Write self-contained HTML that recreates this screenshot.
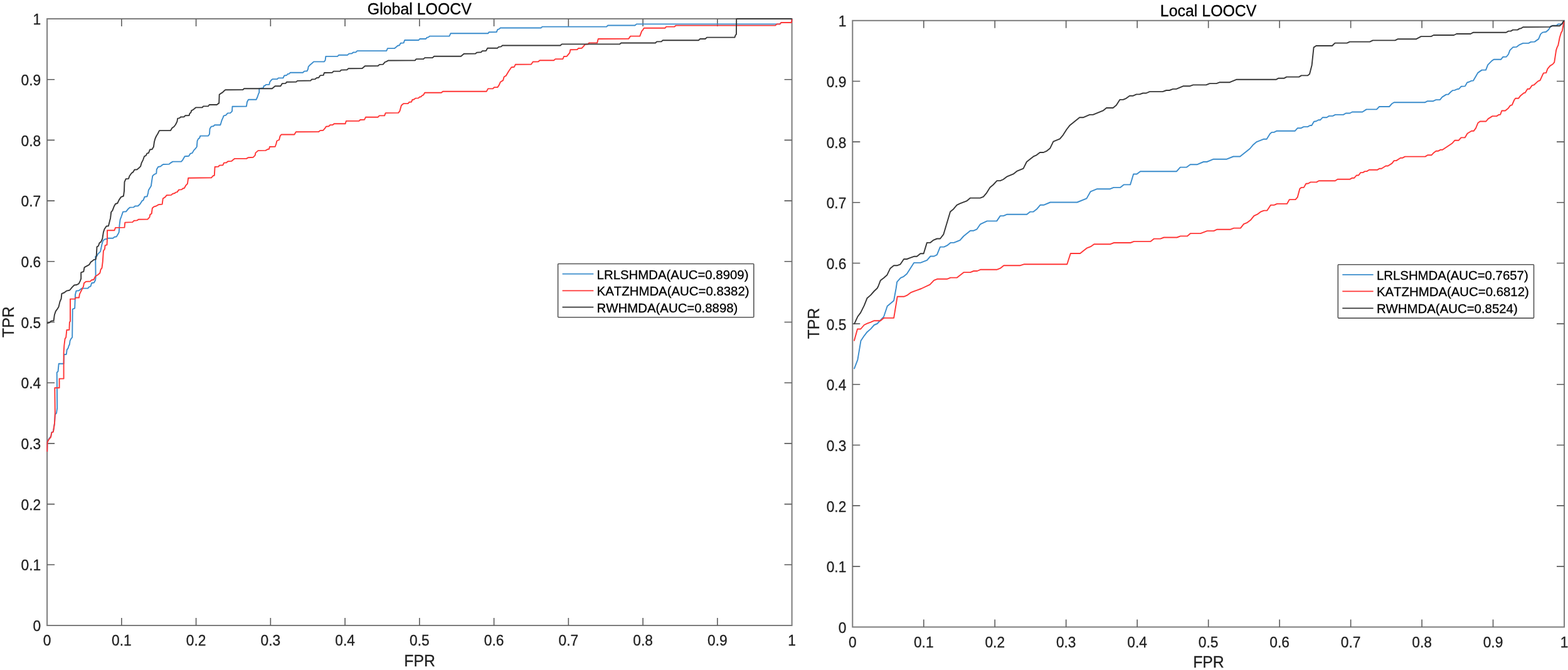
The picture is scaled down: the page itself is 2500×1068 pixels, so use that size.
<!DOCTYPE html>
<html lang="en">
<head>
<meta charset="utf-8">
<title>ROC curves: Global LOOCV and Local LOOCV</title>
<style>
html,body{margin:0;padding:0;background:#fff;}
body{width:2500px;height:1068px;overflow:hidden;}
svg{display:block;font-family:"Liberation Sans",Arial,Helvetica,sans-serif;font-kerning:none;}
text{stroke-width:0.3px;paint-order:stroke;}
</style>
</head>
<body>
<svg width="2500" height="1068" viewBox="0 0 2500 1068" role="img" aria-label="ROC curves for Global LOOCV and Local LOOCV">
<rect width="2500" height="1068" fill="#fff"/>
<g id="global-loocv">
<rect x="75.1" y="30" width="1187.50" height="967.00" fill="none" stroke="#7c7c7c" stroke-width="2"/>
<path d="M193.85 997 v-12.0 M193.85 30 v12.0 M75.1 900.30 h12.0 M1262.6 900.30 h-12.0 M312.60 997 v-12.0 M312.60 30 v12.0 M75.1 803.60 h12.0 M1262.6 803.60 h-12.0 M431.35 997 v-12.0 M431.35 30 v12.0 M75.1 706.90 h12.0 M1262.6 706.90 h-12.0 M550.10 997 v-12.0 M550.10 30 v12.0 M75.1 610.20 h12.0 M1262.6 610.20 h-12.0 M668.85 997 v-12.0 M668.85 30 v12.0 M75.1 513.50 h12.0 M1262.6 513.50 h-12.0 M787.60 997 v-12.0 M787.60 30 v12.0 M75.1 416.80 h12.0 M1262.6 416.80 h-12.0 M906.35 997 v-12.0 M906.35 30 v12.0 M75.1 320.10 h12.0 M1262.6 320.10 h-12.0 M1025.10 997 v-12.0 M1025.10 30 v12.0 M75.1 223.40 h12.0 M1262.6 223.40 h-12.0 M1143.85 997 v-12.0 M1143.85 30 v12.0 M75.1 126.70 h12.0 M1262.6 126.70 h-12.0" fill="none" stroke="#5c5c5c" stroke-width="1.6"/>
<path d="M75.2 719.9 L75.5 704.5 L77.7 699.8 L81.1 695.6 L82.4 689.2 L84.9 688.0 L87.0 674.7 L87.8 660.4 L90.0 658.7 L91.2 650.3 L90.7 593.8 L92.5 592.1 L93.7 579.8 L101.6 579.8 L102.1 565.2 L105.8 564.8 L106.7 557.6 L108.5 555.1 L109.7 551.3 L110.9 549.0 L111.6 543.3 L113.2 540.1 L115.2 537.7 L115.7 492.9 L119.2 491.3 L120.0 469.7 L121.6 463.6 L125.7 463.3 L130.5 459.6 L140.1 459.6 L141.7 457.7 L144.5 456.5 L146.1 451.3 L150.0 450.5 L152.1 446.5 L152.6 442.4 L152.2 408.8 L154.5 408.0 L156.1 404.8 L160.1 400.8 L162.5 389.6 L164.1 384.0 L166.5 381.6 L170.5 380.8 L172.1 379.7 L180.1 379.7 L182.5 377.8 L185.7 377.3 L188.1 373.3 L189.7 370.1 L190.5 358.9 L191.6 350.1 L193.7 344.5 L196.1 337.6 L200.9 337.3 L204.1 333.3 L207.3 330.6 L212.9 330.4 L215.3 328.5 L220.1 328.2 L223.3 325.3 L226.5 320.2 L228.5 319.2 L230.5 313.8 L234.5 313.3 L236.1 307.7 L236.9 302.9 L240.9 296.5 L242.5 285.3 L243.3 280.5 L245.7 278.1 L249.3 276.5 L249.8 270.0 L252.2 266.0 L256.2 265.2 L257.8 263.6 L260.2 262.0 L269.8 261.6 L272.2 259.6 L275.4 257.6 L289.0 257.6 L291.4 254.8 L294.6 249.2 L301.0 248.8 L303.4 244.9 L306.6 243.9 L309.0 239.6 L311.4 237.2 L313.8 234.0 L314.6 224.4 L316.5 220.9 L318.1 220.1 L319.3 216.6 L332.1 216.6 L334.0 213.7 L334.5 205.7 L336.1 202.5 L338.0 201.4 L340.1 201.2 L342.2 199.3 L351.3 199.3 L352.6 195.3 L353.7 191.6 L355.6 187.3 L356.6 184.6 L360.1 183.6 L363.0 180.4 L367.3 180.1 L370.0 177.4 L370.5 169.7 L392.9 169.5 L394.0 162.5 L396.1 158.8 L408.5 158.8 L410.5 154.5 L412.1 149.7 L413.3 147.3 L413.3 141.3 L419.7 140.1 L420.6 137.2 L422.5 136.5 L424.1 134.9 L429.3 134.8 L430.2 130.8 L432.2 128.1 L434.6 126.1 L442.1 126.1 L443.7 124.4 L451.4 124.2 L453.3 120.5 L457.0 120.0 L458.6 118.0 L461.0 117.6 L462.9 115.7 L483.1 115.7 L485.0 113.6 L489.5 113.3 L491.1 110.0 L491.7 106.4 L494.6 103.2 L497.0 101.3 L500.2 98.4 L517.0 98.3 L518.6 96.0 L519.4 89.9 L538.2 89.8 L540.2 87.7 L554.2 87.7 L556.3 85.6 L561.1 85.3 L563.1 83.5 L567.5 83.2 L569.5 81.1 L616.3 81.0 L617.9 77.1 L629.1 77.0 L632.3 74.4 L634.2 72.8 L636.8 72.3 L638.8 68.8 L643.6 68.4 L645.2 64.0 L667.6 64.0 L669.2 62.0 L678.8 62.0 L680.9 59.7 L682.8 59.4 L685.2 57.6 L716.5 57.6 L718.4 53.3 L778.1 53.3 L779.7 51.2 L791.7 51.1 L793.3 47.2 L795.7 46.4 L797.8 44.5 L862.5 44.5 L864.6 42.6 L967.1 42.6 L969.2 40.5 L1012.4 40.5 L1014.8 38.4 L1236.8 38.4 L1238.6 38.4 L1243.4 38.3 L1245.4 36.0 L1262.0 36.0 L1262.6 30.4" fill="none" stroke="#3a8ccc" stroke-width="1.9" stroke-linejoin="round" stroke-linecap="butt"/>
<path d="M75.2 719.9 L75.5 705.0 L77.7 700.8 L81.1 696.6 L82.4 689.6 L84.9 688.5 L87.0 674.7 L87.8 659.6 L87.3 618.3 L94.6 618.3 L94.6 603.6 L101.6 603.6 L101.6 561.8 L102.3 551.0 L103.6 540.1 L105.2 537.7 L106.4 526.0 L110.4 525.7 L110.9 513.7 L112.0 512.1 L112.0 476.6 L119.6 476.6 L120.8 474.5 L126.0 474.5 L126.9 468.9 L130.5 461.7 L132.9 456.9 L134.0 451.3 L136.9 448.9 L144.1 448.5 L145.7 446.5 L149.4 445.7 L152.1 440.5 L156.1 438.0 L159.3 435.2 L160.6 429.6 L162.5 427.2 L163.8 416.8 L164.9 400.0 L167.0 396.8 L167.6 391.2 L170.5 390.4 L171.0 380.0 L171.0 367.2 L182.5 367.2 L184.1 362.9 L198.5 362.6 L199.3 354.6 L211.3 354.1 L213.7 351.7 L218.5 351.4 L220.9 349.8 L235.3 349.6 L238.5 346.1 L239.3 342.1 L241.7 340.5 L242.9 331.7 L245.7 329.3 L248.9 328.5 L252.9 326.1 L258.6 325.6 L259.8 316.5 L263.4 314.1 L265.8 311.2 L273.0 310.9 L275.4 308.8 L278.6 308.0 L280.2 306.6 L282.6 306.1 L285.0 302.6 L289.8 302.1 L291.4 300.5 L293.8 300.0 L296.2 295.7 L298.9 292.9 L300.2 283.7 L337.0 283.3 L339.4 280.5 L341.8 279.7 L342.6 266.0 L348.2 265.6 L349.8 263.6 L355.4 263.2 L357.0 259.6 L361.0 259.3 L363.4 257.2 L369.0 256.9 L373.9 252.9 L393.1 252.9 L395.5 251.2 L403.5 250.8 L406.7 247.6 L407.5 243.6 L411.5 240.1 L423.5 239.9 L426.7 238.0 L429.1 237.5 L429.9 234.0 L438.7 233.7 L440.3 229.2 L441.5 224.5 L445.0 223.0 L446.6 216.9 L448.5 214.5 L469.3 214.5 L471.9 210.2 L508.2 210.0 L510.3 208.1 L515.1 207.8 L517.8 204.9 L519.9 201.7 L524.2 201.2 L526.3 199.3 L530.6 199.0 L532.7 197.2 L550.6 197.2 L551.9 192.9 L572.7 192.7 L574.3 191.0 L581.1 190.7 L583.0 186.8 L602.7 186.7 L604.8 184.4 L613.1 184.3 L614.7 180.1 L635.2 179.9 L637.4 176.9 L639.9 168.1 L643.6 165.1 L650.5 165.1 L652.4 162.8 L655.9 162.5 L657.5 159.0 L660.1 158.5 L662.3 156.6 L667.1 156.4 L669.2 154.5 L671.3 154.2 L673.2 152.1 L675.2 151.3 L677.2 147.8 L703.7 147.8 L706.1 145.7 L775.7 145.7 L778.1 141.4 L786.1 141.2 L787.7 139.3 L793.3 139.1 L795.7 135.6 L797.8 130.8 L802.1 128.1 L803.7 122.5 L806.9 120.6 L810.9 113.7 L815.4 107.3 L819.8 106.8 L821.8 102.8 L847.0 102.6 L849.7 98.5 L858.2 98.3 L860.6 96.2 L883.0 96.2 L885.4 94.1 L897.4 94.0 L899.0 90.0 L903.8 89.7 L908.3 84.1 L909.4 79.2 L920.2 79.1 L922.2 77.0 L927.5 76.7 L930.2 74.1 L932.6 70.9 L938.2 70.2 L939.0 68.4 L952.2 68.2 L953.8 62.0 L1002.2 61.9 L1005.2 57.6 L1020.2 57.6 L1023.2 49.6 L1024.6 48.2 L1026.8 44.8 L1060.2 44.8 L1062.2 42.6 L1075.4 42.6 L1077.8 40.6 L1236.2 40.6 L1238.6 38.4 L1243.4 38.3 L1245.4 36.0 L1262.0 36.0 L1262.6 30.4" fill="none" stroke="#ff3535" stroke-width="1.9" stroke-linejoin="round" stroke-linecap="butt"/>
<path d="M75.2 515.3 L79.2 514.2 L81.6 511.6 L85.6 511.3 L86.9 501.7 L88.8 496.1 L91.2 492.9 L93.6 488.9 L95.5 480.9 L97.6 476.1 L98.4 468.1 L102.4 466.5 L106.4 463.6 L111.2 462.5 L115.2 457.7 L118.4 454.5 L122.4 454.0 L125.7 452.1 L128.1 447.3 L129.2 444.1 L129.2 434.4 L131.3 433.6 L133.3 432.8 L134.5 426.4 L136.9 424.8 L140.1 423.2 L142.5 421.6 L144.9 417.6 L147.3 416.0 L149.7 413.9 L152.6 413.6 L153.7 408.0 L154.5 393.6 L156.9 392.0 L158.5 387.2 L160.9 385.6 L163.3 380.5 L164.9 370.1 L166.5 365.3 L169.7 360.5 L172.9 360.2 L174.5 354.1 L176.1 347.7 L177.2 338.1 L179.3 335.7 L181.7 329.3 L184.1 325.0 L187.3 324.0 L189.7 318.9 L192.9 314.1 L196.9 312.5 L198.0 304.5 L198.5 290.1 L200.6 285.3 L204.9 284.9 L206.5 280.5 L209.7 276.0 L212.1 274.4 L214.5 270.5 L218.5 270.2 L221.7 267.6 L224.1 265.2 L225.7 259.6 L228.1 254.8 L230.1 249.2 L232.6 248.1 L234.5 244.4 L236.9 243.9 L239.0 238.5 L242.5 238.0 L244.9 234.0 L246.0 226.0 L247.4 221.0 L249.2 217.0 L251.5 213.2 L254.1 208.1 L272.0 208.1 L274.4 204.1 L277.6 201.7 L280.0 198.5 L282.4 193.7 L283.2 188.9 L286.4 188.1 L288.0 186.5 L293.6 186.2 L295.2 184.3 L301.6 184.1 L302.4 180.9 L304.4 179.3 L305.3 176.1 L307.3 175.3 L309.7 173.4 L312.1 171.4 L322.5 171.4 L324.1 169.4 L332.1 169.2 L333.7 167.0 L345.7 167.0 L347.6 165.4 L349.2 164.4 L349.7 150.8 L352.1 148.9 L354.5 147.6 L357.7 144.5 L359.3 143.3 L387.3 143.1 L388.9 141.3 L433.8 141.3 L436.2 139.3 L438.6 137.3 L447.4 137.2 L449.8 133.3 L455.4 132.9 L457.0 130.8 L472.2 130.6 L474.1 128.9 L495.4 128.5 L497.0 126.5 L502.6 126.1 L505.0 124.1 L508.2 123.7 L510.3 120.4 L515.7 119.9 L517.0 116.0 L529.8 115.7 L531.8 113.6 L542.3 113.5 L543.9 111.6 L553.5 111.2 L555.5 109.2 L577.5 109.0 L581.9 105.2 L602.7 105.0 L605.1 102.9 L610.7 102.6 L613.9 98.8 L616.3 98.1 L618.7 96.5 L661.7 96.4 L663.6 94.1 L675.2 94.1 L677.2 92.1 L689.6 92.1 L692.1 89.8 L734.9 89.7 L739.7 85.7 L758.1 85.5 L760.5 83.6 L766.9 83.4 L769.0 81.2 L774.9 81.0 L777.3 76.8 L793.0 76.8 L794.9 74.9 L798.9 74.4 L801.0 72.5 L893.4 72.5 L895.8 70.4 L987.9 70.4 L990.3 68.5 L1045.0 68.5 L1047.2 66.4 L1054.4 66.4 L1056.8 64.2 L1113.8 64.2 L1116.2 62.0 L1124.6 62.0 L1127.0 59.6 L1171.4 59.6 L1172.6 56.2 L1174.0 54.6 L1174.2 30.0 L1262.6 30.0" fill="none" stroke="#363636" stroke-width="1.9" stroke-linejoin="round" stroke-linecap="butt"/>
<g font-size="22.75" fill="#1e1e1e" stroke="#1e1e1e"><text transform="translate(75.10 1029.40) scale(1 1.03)" text-anchor="middle">0</text>
<text transform="translate(65.10 1006.15) scale(1 1.03)" text-anchor="end">0</text>
<text transform="translate(193.85 1029.40) scale(1 1.03)" text-anchor="middle">0.1</text>
<text transform="translate(65.10 909.45) scale(1 1.03)" text-anchor="end">0.1</text>
<text transform="translate(312.60 1029.40) scale(1 1.03)" text-anchor="middle">0.2</text>
<text transform="translate(65.10 812.75) scale(1 1.03)" text-anchor="end">0.2</text>
<text transform="translate(431.35 1029.40) scale(1 1.03)" text-anchor="middle">0.3</text>
<text transform="translate(65.10 716.05) scale(1 1.03)" text-anchor="end">0.3</text>
<text transform="translate(550.10 1029.40) scale(1 1.03)" text-anchor="middle">0.4</text>
<text transform="translate(65.10 619.35) scale(1 1.03)" text-anchor="end">0.4</text>
<text transform="translate(668.85 1029.40) scale(1 1.03)" text-anchor="middle">0.5</text>
<text transform="translate(65.10 522.65) scale(1 1.03)" text-anchor="end">0.5</text>
<text transform="translate(787.60 1029.40) scale(1 1.03)" text-anchor="middle">0.6</text>
<text transform="translate(65.10 425.95) scale(1 1.03)" text-anchor="end">0.6</text>
<text transform="translate(906.35 1029.40) scale(1 1.03)" text-anchor="middle">0.7</text>
<text transform="translate(65.10 329.25) scale(1 1.03)" text-anchor="end">0.7</text>
<text transform="translate(1025.10 1029.40) scale(1 1.03)" text-anchor="middle">0.8</text>
<text transform="translate(65.10 232.55) scale(1 1.03)" text-anchor="end">0.8</text>
<text transform="translate(1143.85 1029.40) scale(1 1.03)" text-anchor="middle">0.9</text>
<text transform="translate(65.10 135.85) scale(1 1.03)" text-anchor="end">0.9</text>
<text transform="translate(1262.60 1029.40) scale(1 1.03)" text-anchor="middle">1</text>
<text transform="translate(65.10 39.15) scale(1 1.03)" text-anchor="end">1</text></g>
<text transform="translate(669.15 1061.90) scale(1 1.03)" text-anchor="middle" font-size="24.8" fill="#1e1e1e" stroke="#1e1e1e">FPR</text>
<text transform="translate(21.80 513.20) rotate(-90) scale(1 1.03)" text-anchor="middle" font-size="24.8" fill="#1e1e1e" stroke="#1e1e1e">TPR</text>
<text transform="translate(668.85 23.00) scale(1 1.03)" text-anchor="middle" font-size="24.9" fill="#000" stroke="#000">Global LOOCV</text>
<rect x="889.6" y="420.5" width="312.20" height="85.20" rx="1" fill="#fff" stroke="#555" stroke-width="1.6"/>
<path d="M896.6 436.7 H946.3" stroke="#3a8ccc" stroke-width="1.7" fill="none"/>
<text transform="translate(951.60 444.50) scale(1 1.03)" font-size="20.4" fill="#000" stroke="#000">LRLSHMDA(AUC=0.8909)</text>
<path d="M896.6 463.4 H946.3" stroke="#ff3535" stroke-width="1.7" fill="none"/>
<text transform="translate(951.60 470.80) scale(1 1.03)" font-size="20.4" fill="#000" stroke="#000">KATZHMDA(AUC=0.8382)</text>
<path d="M896.6 489.6 H946.3" stroke="#363636" stroke-width="1.7" fill="none"/>
<text transform="translate(951.60 497.50) scale(1 1.03)" font-size="20.4" fill="#000" stroke="#000">RWHMDA(AUC=0.8898)</text>
</g>
<g id="local-loocv">
<rect x="1359.3" y="32.8" width="1134.70" height="966.70" fill="none" stroke="#7c7c7c" stroke-width="2"/>
<path d="M1472.77 999.5 v-12.0 M1472.77 32.8 v12.0 M1359.3 902.83 h12.0 M2494.0 902.83 h-12.0 M1586.24 999.5 v-12.0 M1586.24 32.8 v12.0 M1359.3 806.16 h12.0 M2494.0 806.16 h-12.0 M1699.71 999.5 v-12.0 M1699.71 32.8 v12.0 M1359.3 709.49 h12.0 M2494.0 709.49 h-12.0 M1813.18 999.5 v-12.0 M1813.18 32.8 v12.0 M1359.3 612.82 h12.0 M2494.0 612.82 h-12.0 M1926.65 999.5 v-12.0 M1926.65 32.8 v12.0 M1359.3 516.15 h12.0 M2494.0 516.15 h-12.0 M2040.12 999.5 v-12.0 M2040.12 32.8 v12.0 M1359.3 419.48 h12.0 M2494.0 419.48 h-12.0 M2153.59 999.5 v-12.0 M2153.59 32.8 v12.0 M1359.3 322.81 h12.0 M2494.0 322.81 h-12.0 M2267.06 999.5 v-12.0 M2267.06 32.8 v12.0 M1359.3 226.14 h12.0 M2494.0 226.14 h-12.0 M2380.53 999.5 v-12.0 M2380.53 32.8 v12.0 M1359.3 129.47 h12.0 M2494.0 129.47 h-12.0" fill="none" stroke="#5c5c5c" stroke-width="1.6"/>
<path d="M1361.8 588.1 L1367.4 573.7 L1372.5 543.3 L1377.8 535.3 L1382.6 529.2 L1388.2 524.4 L1393.8 518.0 L1398.6 516.0 L1404.2 510.0 L1409.1 504.8 L1414.7 488.0 L1425.1 479.2 L1428.6 460.0 L1430.2 449.3 L1436.0 442.9 L1440.8 440.8 L1445.9 436.5 L1457.1 418.9 L1467.5 418.9 L1477.9 414.9 L1483.5 408.5 L1489.1 408.5 L1493.9 406.1 L1499.0 393.6 L1505.1 393.6 L1509.9 391.4 L1515.5 386.9 L1520.8 386.9 L1530.7 382.9 L1536.3 376.5 L1547.1 367.7 L1552.4 367.7 L1557.6 365.3 L1563.1 357.3 L1573.7 352.4 L1589.2 352.4 L1594.8 344.1 L1599.9 344.1 L1605.7 341.7 L1637.2 341.7 L1642.5 337.6 L1647.6 337.6 L1652.8 333.6 L1658.5 326.8 L1664.0 326.8 L1674.5 322.5 L1717.3 322.5 L1732.5 316.4 L1738.8 305.3 L1749.2 301.2 L1770.0 301.2 L1775.6 298.9 L1786.0 298.9 L1791.7 294.4 L1802.1 294.4 L1807.2 277.5 L1812.5 277.5 L1818.1 273.2 L1876.0 273.2 L1881.8 266.6 L1892.0 266.6 L1897.8 262.3 L1908.5 262.3 L1918.8 258.0 L1924.2 258.0 L1934.8 253.7 L1956.0 253.7 L1966.4 249.5 L1977.1 249.5 L1992.8 237.0 L1998.4 230.4 L2003.7 226.1 L2014.5 221.8 L2019.6 221.8 L2024.9 213.3 L2027.7 210.9 L2031.3 210.9 L2035.3 208.8 L2064.6 208.8 L2068.9 204.2 L2074.5 204.2 L2078.5 202.1 L2084.9 202.1 L2088.6 200.0 L2091.3 200.0 L2095.0 193.7 L2098.5 193.3 L2102.0 191.3 L2104.9 191.3 L2108.9 187.2 L2115.3 187.2 L2119.0 184.9 L2124.9 184.9 L2128.9 182.9 L2141.8 182.9 L2145.8 180.5 L2152.2 180.5 L2155.9 178.5 L2172.2 178.5 L2178.6 174.4 L2194.9 174.4 L2199.1 170.0 L2215.1 170.0 L2219.4 165.2 L2222.6 163.3 L2271.8 163.3 L2276.0 161.2 L2285.1 161.2 L2289.4 159.1 L2295.8 159.1 L2299.5 154.6 L2305.9 150.6 L2309.1 150.5 L2313.1 146.5 L2316.3 144.1 L2319.2 143.9 L2323.5 142.0 L2326.2 141.7 L2329.9 137.7 L2335.9 137.4 L2339.4 131.3 L2342.6 130.5 L2345.8 128.9 L2349.0 128.6 L2353.0 121.7 L2356.2 116.1 L2362.6 111.6 L2369.0 111.6 L2372.2 103.3 L2378.6 96.9 L2381.8 94.8 L2393.0 94.8 L2396.2 90.8 L2401.8 90.5 L2405.0 86.5 L2407.4 80.1 L2412.2 75.3 L2417.8 74.9 L2422.7 71.3 L2428.3 68.9 L2437.1 68.9 L2440.8 66.9 L2446.7 66.6 L2453.1 62.1 L2456.3 54.4 L2459.5 51.6 L2465.1 50.8 L2469.1 47.2 L2472.3 42.0 L2475.5 40.8 L2481.9 40.5 L2484.3 38.4 L2490.7 38.4 L2493.6 32.8" fill="none" stroke="#3a8ccc" stroke-width="1.9" stroke-linejoin="round" stroke-linecap="butt"/>
<path d="M1361.8 543.6 L1367.1 524.5 L1372.2 524.5 L1377.8 518.0 L1382.6 515.7 L1388.2 513.6 L1393.8 511.2 L1398.6 511.2 L1403.9 511.2 L1409.1 506.9 L1425.1 506.9 L1430.7 472.8 L1441.1 472.8 L1445.9 470.9 L1452.0 466.4 L1457.1 464.3 L1462.7 462.4 L1469.1 460.0 L1482.7 453.6 L1489.1 446.9 L1494.2 444.8 L1509.9 444.8 L1515.5 442.6 L1525.9 442.6 L1536.8 434.1 L1547.1 434.1 L1552.4 432.0 L1558.0 432.0 L1563.1 429.8 L1589.2 429.8 L1594.8 427.7 L1600.4 423.2 L1626.8 423.2 L1632.4 421.3 L1701.3 421.3 L1706.9 404.0 L1722.1 404.0 L1732.5 395.7 L1738.8 393.2 L1744.4 389.2 L1770.4 389.2 L1776.0 387.0 L1802.4 387.0 L1808.0 384.9 L1834.4 384.9 L1840.0 380.6 L1850.1 380.6 L1855.7 378.5 L1876.5 378.5 L1882.1 376.4 L1892.9 376.4 L1898.1 372.1 L1914.1 372.1 L1924.6 368.1 L1935.3 368.1 L1940.6 365.7 L1961.9 365.7 L1967.3 363.6 L1977.9 363.6 L1983.0 357.2 L1988.6 354.8 L1993.9 350.8 L1999.3 344.1 L2004.6 341.7 L2009.9 337.7 L2015.3 335.6 L2020.3 335.6 L2025.9 326.9 L2031.4 326.9 L2036.2 324.9 L2051.9 324.9 L2055.9 318.1 L2065.5 318.1 L2068.7 314.4 L2072.4 300.8 L2075.1 298.9 L2078.8 298.9 L2082.3 292.8 L2085.8 292.5 L2089.5 290.4 L2099.1 290.4 L2102.7 288.2 L2128.8 288.2 L2132.6 285.7 L2152.4 285.7 L2156.0 283.7 L2159.2 283.7 L2162.8 279.5 L2166.0 279.5 L2169.4 275.1 L2172.8 275.1 L2176.2 273.1 L2179.2 273.1 L2183.0 270.8 L2195.9 270.8 L2199.6 268.7 L2202.7 268.7 L2209.5 264.5 L2212.9 264.5 L2219.4 260.4 L2222.7 256.1 L2226.2 256.1 L2233.0 251.7 L2236.3 251.7 L2240.1 249.6 L2272.4 249.6 L2276.1 247.2 L2282.5 247.2 L2286.3 243.2 L2289.7 240.8 L2292.8 240.8 L2296.5 238.8 L2299.9 238.8 L2315.6 228.2 L2319.6 223.7 L2325.8 223.7 L2329.6 219.4 L2335.6 219.4 L2339.6 212.8 L2346.2 208.8 L2349.6 208.8 L2353.0 204.4 L2356.4 196.0 L2359.8 193.5 L2369.3 193.5 L2372.7 189.4 L2379.5 185.1 L2386.3 185.1 L2389.4 183.0 L2392.1 182.6 L2394.4 176.5 L2399.9 176.5 L2404.6 172.8 L2408.0 168.1 L2410.8 167.4 L2414.2 159.5 L2416.2 156.8 L2421.0 156.8 L2424.4 152.4 L2429.9 148.1 L2431.5 148.1 L2435.5 141.7 L2438.7 141.7 L2442.7 136.1 L2445.9 135.3 L2452.3 129.4 L2455.5 128.1 L2459.5 119.3 L2461.1 116.4 L2465.1 116.1 L2467.5 109.7 L2471.5 104.9 L2475.5 102.5 L2478.2 99.3 L2479.8 88.9 L2481.1 80.1 L2482.7 75.3 L2484.3 72.1 L2486.7 60.0 L2489.1 52.0 L2490.7 49.6 L2493.6 33.6" fill="none" stroke="#ff3535" stroke-width="1.9" stroke-linejoin="round" stroke-linecap="butt"/>
<path d="M1361.8 516.8 L1367.4 504.8 L1372.2 498.4 L1377.8 487.2 L1382.6 475.2 L1388.2 470.4 L1393.8 464.0 L1398.6 459.5 L1400.2 456.5 L1403.9 446.9 L1409.1 442.9 L1414.2 438.6 L1419.5 427.7 L1425.1 423.2 L1430.7 423.2 L1435.5 421.3 L1441.1 413.0 L1445.9 413.0 L1451.5 410.9 L1457.1 408.8 L1461.9 408.8 L1467.5 404.2 L1472.6 404.2 L1477.9 386.9 L1483.0 386.9 L1488.6 382.6 L1493.9 380.5 L1499.0 380.5 L1504.3 373.7 L1515.1 337.6 L1520.3 333.2 L1525.6 326.8 L1530.7 324.4 L1541.2 320.4 L1547.1 315.6 L1562.8 315.6 L1567.9 313.7 L1573.2 307.3 L1578.5 298.8 L1583.6 294.5 L1589.5 288.1 L1594.8 288.1 L1599.6 286.0 L1605.2 281.7 L1615.6 277.4 L1621.2 272.9 L1631.6 268.6 L1636.9 258.0 L1647.7 249.4 L1652.5 247.3 L1658.1 243.0 L1663.7 243.0 L1668.5 240.9 L1674.1 236.6 L1679.4 225.7 L1689.8 221.4 L1694.9 215.3 L1700.5 206.5 L1705.8 199.7 L1721.3 187.3 L1726.9 187.3 L1737.3 182.9 L1742.6 182.9 L1758.6 176.4 L1764.1 172.0 L1774.6 172.0 L1779.8 167.7 L1785.4 158.9 L1790.7 158.9 L1795.5 156.8 L1801.1 152.8 L1806.2 152.8 L1811.8 150.4 L1816.9 150.4 L1822.2 148.5 L1827.5 148.5 L1832.9 146.1 L1853.7 146.1 L1859.5 144.0 L1864.6 144.0 L1870.2 141.9 L1875.5 141.9 L1886.3 137.3 L1896.7 137.3 L1902.3 135.4 L1923.1 135.4 L1928.7 133.1 L1939.6 133.1 L1944.7 131.2 L1960.7 131.2 L1971.2 126.8 L2034.5 126.8 L2038.5 124.7 L2047.6 124.7 L2051.3 122.6 L2071.2 122.6 L2074.8 120.4 L2084.8 120.4 L2088.0 118.0 L2091.6 104.0 L2094.6 75.6 L2098.4 73.0 L2124.0 73.0 L2128.4 68.6 L2147.6 68.6 L2152.0 66.6 L2184.0 66.6 L2188.8 64.4 L2224.4 64.4 L2228.8 62.2 L2258.2 62.2 L2265.7 58.1 L2281.7 58.1 L2285.7 56.0 L2318.1 56.0 L2322.3 54.0 L2344.7 54.0 L2349.0 51.7 L2401.4 51.7 L2405.0 49.6 L2408.7 49.6 L2412.2 47.6 L2419.5 47.6 L2422.7 45.6 L2425.1 45.3 L2428.3 43.2 L2471.5 42.9 L2474.7 41.3 L2486.7 41.2 L2489.9 38.4 L2493.6 32.8" fill="none" stroke="#363636" stroke-width="1.9" stroke-linejoin="round" stroke-linecap="butt"/>
<g font-size="22.75" fill="#1e1e1e" stroke="#1e1e1e"><text transform="translate(1359.30 1032.00) scale(1 1.03)" text-anchor="middle">0</text>
<text transform="translate(1349.30 1008.90) scale(1 1.03)" text-anchor="end">0</text>
<text transform="translate(1472.77 1032.00) scale(1 1.03)" text-anchor="middle">0.1</text>
<text transform="translate(1349.30 912.23) scale(1 1.03)" text-anchor="end">0.1</text>
<text transform="translate(1586.24 1032.00) scale(1 1.03)" text-anchor="middle">0.2</text>
<text transform="translate(1349.30 815.56) scale(1 1.03)" text-anchor="end">0.2</text>
<text transform="translate(1699.71 1032.00) scale(1 1.03)" text-anchor="middle">0.3</text>
<text transform="translate(1349.30 718.89) scale(1 1.03)" text-anchor="end">0.3</text>
<text transform="translate(1813.18 1032.00) scale(1 1.03)" text-anchor="middle">0.4</text>
<text transform="translate(1349.30 622.22) scale(1 1.03)" text-anchor="end">0.4</text>
<text transform="translate(1926.65 1032.00) scale(1 1.03)" text-anchor="middle">0.5</text>
<text transform="translate(1349.30 525.55) scale(1 1.03)" text-anchor="end">0.5</text>
<text transform="translate(2040.12 1032.00) scale(1 1.03)" text-anchor="middle">0.6</text>
<text transform="translate(1349.30 428.88) scale(1 1.03)" text-anchor="end">0.6</text>
<text transform="translate(2153.59 1032.00) scale(1 1.03)" text-anchor="middle">0.7</text>
<text transform="translate(1349.30 332.21) scale(1 1.03)" text-anchor="end">0.7</text>
<text transform="translate(2267.06 1032.00) scale(1 1.03)" text-anchor="middle">0.8</text>
<text transform="translate(1349.30 235.54) scale(1 1.03)" text-anchor="end">0.8</text>
<text transform="translate(2380.53 1032.00) scale(1 1.03)" text-anchor="middle">0.9</text>
<text transform="translate(1349.30 138.87) scale(1 1.03)" text-anchor="end">0.9</text>
<text transform="translate(2494.00 1032.00) scale(1 1.03)" text-anchor="middle">1</text>
<text transform="translate(1349.30 42.20) scale(1 1.03)" text-anchor="end">1</text></g>
<text transform="translate(1926.95 1064.40) scale(1 1.03)" text-anchor="middle" font-size="24.8" fill="#1e1e1e" stroke="#1e1e1e">FPR</text>
<text transform="translate(1306.00 515.55) rotate(-90) scale(1 1.03)" text-anchor="middle" font-size="24.8" fill="#1e1e1e" stroke="#1e1e1e">TPR</text>
<text transform="translate(1926.65 25.60) scale(1 1.03)" text-anchor="middle" font-size="24.9" fill="#000" stroke="#000">Local LOOCV</text>
<rect x="2133.3" y="421.7" width="312.20" height="85.40" rx="1" fill="#fff" stroke="#555" stroke-width="1.6"/>
<path d="M2140.3 437.8 H2189.6" stroke="#3a8ccc" stroke-width="1.7" fill="none"/>
<text transform="translate(2194.90 445.50) scale(1 1.03)" font-size="20.4" fill="#000" stroke="#000">LRLSHMDA(AUC=0.7657)</text>
<path d="M2140.3 464.4 H2189.6" stroke="#ff3535" stroke-width="1.7" fill="none"/>
<text transform="translate(2194.90 472.40) scale(1 1.03)" font-size="20.4" fill="#000" stroke="#000">KATZHMDA(AUC=0.6812)</text>
<path d="M2140.3 491.3 H2189.6" stroke="#363636" stroke-width="1.7" fill="none"/>
<text transform="translate(2194.90 499.10) scale(1 1.03)" font-size="20.4" fill="#000" stroke="#000">RWHMDA(AUC=0.8524)</text>
</g>
</svg>
</body>
</html>
